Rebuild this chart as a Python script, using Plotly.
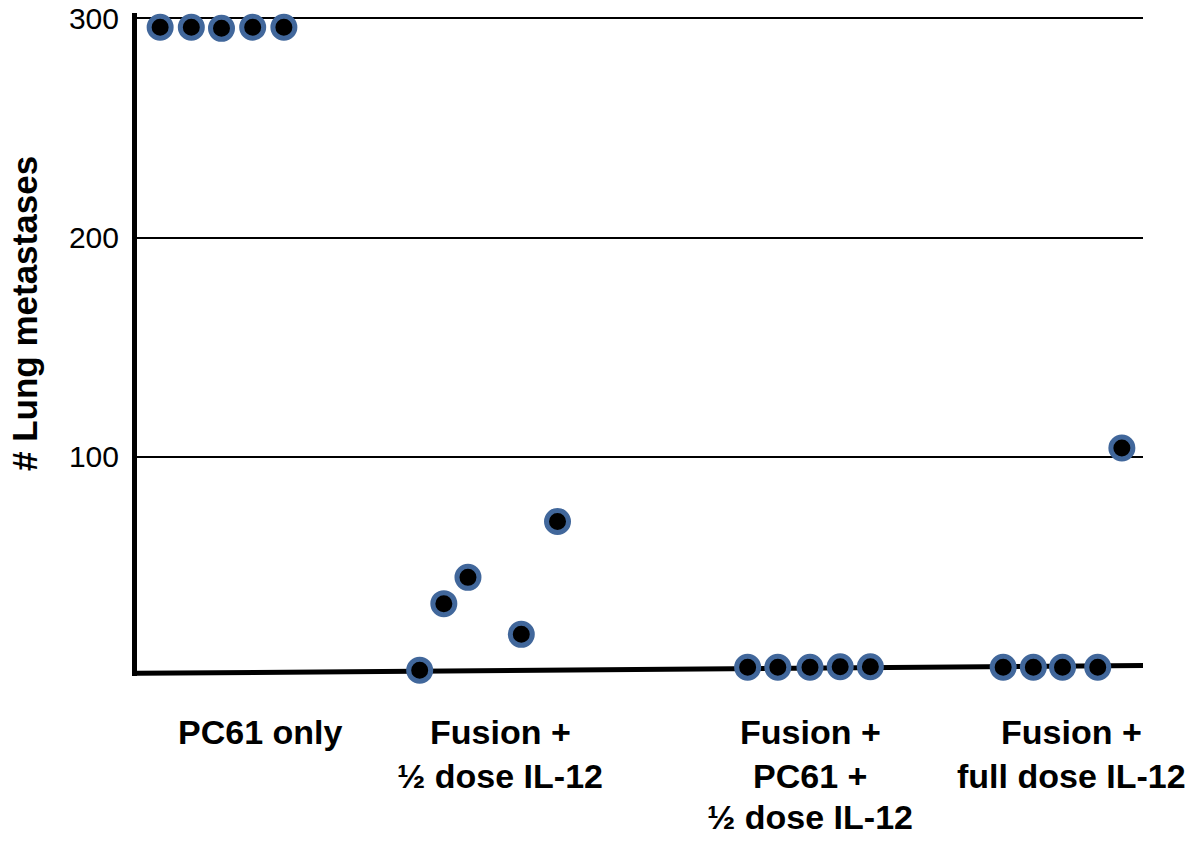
import plotly.graph_objects as go

# ---- data ----
groups = ["PC61 only", "Fusion +<br>½ dose IL-12", "Fusion +<br>PC61 +<br>½ dose IL-12", "Fusion +<br>full dose IL-12"]
group_label_x = [1.22, 3.61, 6.69, 9.29]

g1_x = [0.23, 0.54, 0.84, 1.15, 1.46]
g1_y = [296, 296, 295.5, 296, 296]
g2_x = [2.81, 3.05, 3.29, 3.82, 4.18]
g2_y = [2.6, 33, 45, 19, 70.5]
g3_x = [6.07, 6.37, 6.69, 6.99, 7.29]
g3_y = [4, 4, 4, 4.2, 4.2]
g4_x = [8.61, 8.91, 9.20, 9.55, 9.79]
g4_y = [4, 4, 4, 4, 104]

y_ticks = [100, 200, 300]
y_title = "# Lung metastases"

xs = g1_x + g2_x + g3_x + g4_x
ys = g1_y + g2_y + g3_y + g4_y

FONT = "Liberation Sans, Arial, Helvetica, sans-serif"

fig = go.Figure()
fig.add_trace(go.Scatter(
    x=xs, y=ys, mode="markers", cliponaxis=False,
    marker=dict(size=22, color="black", line=dict(color="#41679B", width=5)),
    showlegend=False, hoverinfo="skip",
))

# page body has an 8px margin, so the figure is sized to fit inside it
fig.update_layout(
    width=1184, height=825, autosize=False,
    margin=dict(l=129, r=49, t=5.4, b=157.4, autoexpand=False),
    paper_bgcolor="white", plot_bgcolor="white",
    font=dict(family=FONT, color="black"),
)
fig.update_xaxes(range=[0, 10], showgrid=False, zeroline=False, showticklabels=False,
                 showline=False, ticks="", automargin=False)
fig.update_yaxes(range=[0, 302.5], tickvals=y_ticks, ticktext=[str(v) for v in y_ticks],
                 showgrid=True, gridcolor="black", gridwidth=1.5, zeroline=False,
                 showline=True, linecolor="black", linewidth=5, ticks="", automargin=False,
                 ticklabeloverflow="allow",
                 ticklabelstandoff=7, tickfont=dict(size=30, family=FONT, color="black"))

# slightly slanted baseline (x-axis line)
fig.add_shape(type="line", xref="paper", yref="y", x0=0, x1=1, y0=1.2, y1=4.8,
              line=dict(color="black", width=5), layer="below")

# y title
fig.add_annotation(text="<b>" + y_title + "</b>", xref="paper", yref="paper",
                   x=-0.1123, y=0.546, xanchor="center", yanchor="middle",
                   textangle=-90, showarrow=False, font=dict(size=35, family=FONT, color="black"))

# category labels, one annotation per line
line_shifts = [-56, -100, -141]
for gx, lab in zip(group_label_x, groups):
    for i, part in enumerate(lab.split("<br>")):
        fig.add_annotation(text="<b>" + part + "</b>", xref="x", yref="paper",
                           x=gx, y=0, xanchor="center", yanchor="middle",
                           yshift=line_shifts[i], showarrow=False,
                           font=dict(size=34, family=FONT, color="black"))

fig.write_html("out.html")
